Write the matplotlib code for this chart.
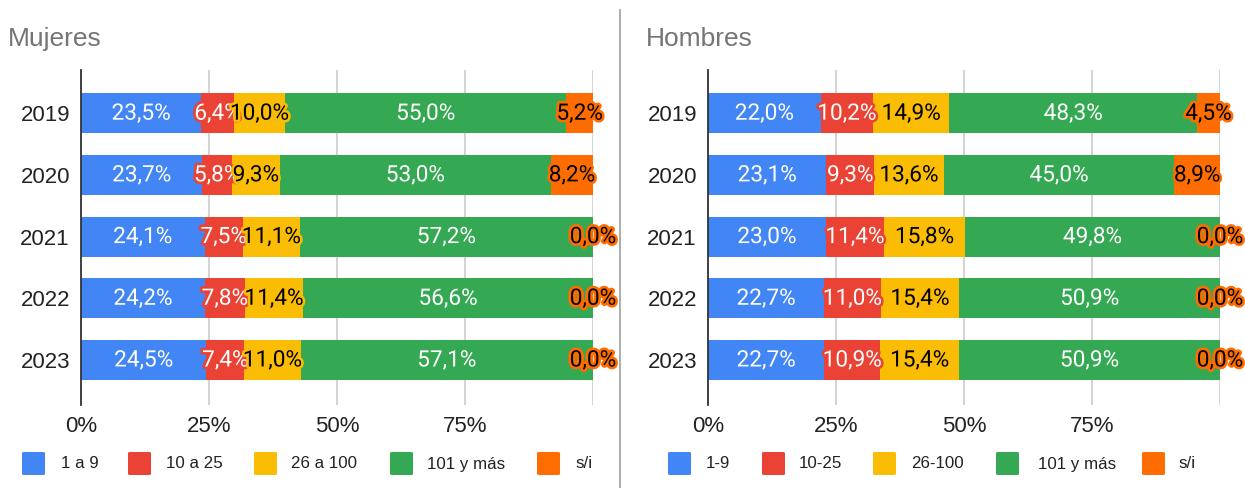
import matplotlib
matplotlib.use("Agg")
import matplotlib.pyplot as plt
import matplotlib.patheffects as pe
from matplotlib.patches import FancyBboxPatch
from matplotlib.lines import Line2D
import numpy as np

plt.rcParams['font.family'] = ['Liberation Sans', 'DejaVu Sans']
LABEL_FONT = ['Roboto', 'DejaVu Sans']

years = ["2019", "2020", "2021", "2022", "2023"]
legend_m = ["1 a 9", "10 a 25", "26 a 100", "101 y más", "s/i"]
legend_h = ["1-9", "10-25", "26-100", "101 y más", "s/i"]
colors = ["#4285F4", "#EA4335", "#FBBC04", "#34A853", "#FF6D01"]
text_colors = ["white", "white", "black", "white", "black"]

mujeres_1a9 = [23.5, 23.7, 24.1, 24.2, 24.5]
mujeres_10a25 = [6.4, 5.8, 7.5, 7.8, 7.4]
mujeres_26a100 = [10.0, 9.3, 11.1, 11.4, 11.0]
mujeres_101 = [55.0, 53.0, 57.2, 56.6, 57.1]
mujeres_si = [5.2, 8.2, 0.0, 0.0, 0.0]

hombres_1a9 = [22.0, 23.1, 23.0, 22.7, 22.7]
hombres_10a25 = [10.2, 9.3, 11.4, 11.0, 10.9]
hombres_26a100 = [14.9, 13.6, 15.8, 15.4, 15.4]
hombres_101 = [48.3, 45.0, 49.8, 50.9, 50.9]
hombres_si = [4.5, 8.9, 0.0, 0.0, 0.0]

xticks = [0, 25, 50, 75, 100]
xticklabels = ["0%", "25%", "50%", "75%", ""]

W, H = 1245, 488
fig = plt.figure(figsize=(W / 100, H / 100), dpi=100)

def px(x, y):
    return x / W, 1 - y / H

def draw_panel(left_px, series, title, title_x, legend_labels, sq_x, txt_x):
    ax = fig.add_axes([left_px / W, 1 - 405 / H, 512 / W, (405 - 70) / H])
    data = np.array(series, dtype=float)  # shape (5 series, 5 years)
    totals = data.sum(axis=0)
    pct = data / totals * 100
    y = np.arange(len(years))
    left = np.zeros(len(years))
    for k in range(pct.shape[0]):
        ax.barh(y, pct[k], left=left, height=0.65, color=colors[k],
                edgecolor="none", zorder=3)
        for i in range(len(years)):
            cx = left[i] + pct[k][i] / 2
            lab = f"{data[k][i]:.1f}%".replace(".", ",")
            ax.text(cx, y[i], lab, ha="center", va="center", fontsize=16.3,
                    family=LABEL_FONT, color=text_colors[k], zorder=5,
                    path_effects=[pe.withStroke(linewidth=3.8, foreground=colors[k])])
        left = left + pct[k]
    ax.set_xlim(0, 100)
    ax.set_ylim(4.73, -0.70)
    ax.set_yticks(y)
    ax.set_yticklabels(years, fontsize=16, color="#222222")
    ax.set_xticks(xticks)
    ax.set_xticklabels(xticklabels, fontsize=16, color="#222222")
    ax.tick_params(axis="y", length=0, pad=8)
    ax.tick_params(axis="x", length=0, pad=8)
    ax.grid(axis="x", color="#cccccc", linewidth=1.2, zorder=0)
    for s in ["top", "right", "bottom"]:
        ax.spines[s].set_visible(False)
    ax.spines["left"].set_color("#333333")
    ax.spines["left"].set_linewidth(1.3)
    ax.spines["left"].set_zorder(4)
    fig.text(*px(title_x, 39), title, fontsize=19, color="#757575",
             ha="left", va="center")
    for k, lab in enumerate(legend_labels):
        x0, y0 = px(sq_x[k], 475)
        fig.patches.append(FancyBboxPatch((x0, y0), 23 / W, 23 / H,
                                          boxstyle="round,pad=0,rounding_size=0.002",
                                          transform=fig.transFigure,
                                          facecolor=colors[k], edgecolor="none"))
        fig.text(*px(txt_x[k], 464), lab, fontsize=12.2, color="#222222",
                 ha="left", va="center")
    return ax

draw_panel(81, [mujeres_1a9, mujeres_10a25, mujeres_26a100, mujeres_101, mujeres_si],
           "Mujeres", 8, legend_m,
           [22, 128, 254, 390, 537], [61, 166, 291, 427, 575])
draw_panel(708, [hombres_1a9, hombres_10a25, hombres_26a100, hombres_101, hombres_si],
           "Hombres", 646, legend_h,
           [668, 762, 873, 996, 1142], [706, 799, 911, 1038, 1178])

fig.add_artist(Line2D([620 / W, 620 / W], [0, 1 - 10 / H], transform=fig.transFigure,
                      color="#9e9e9e", linewidth=1.2))

fig.savefig("out.png", dpi=100)
